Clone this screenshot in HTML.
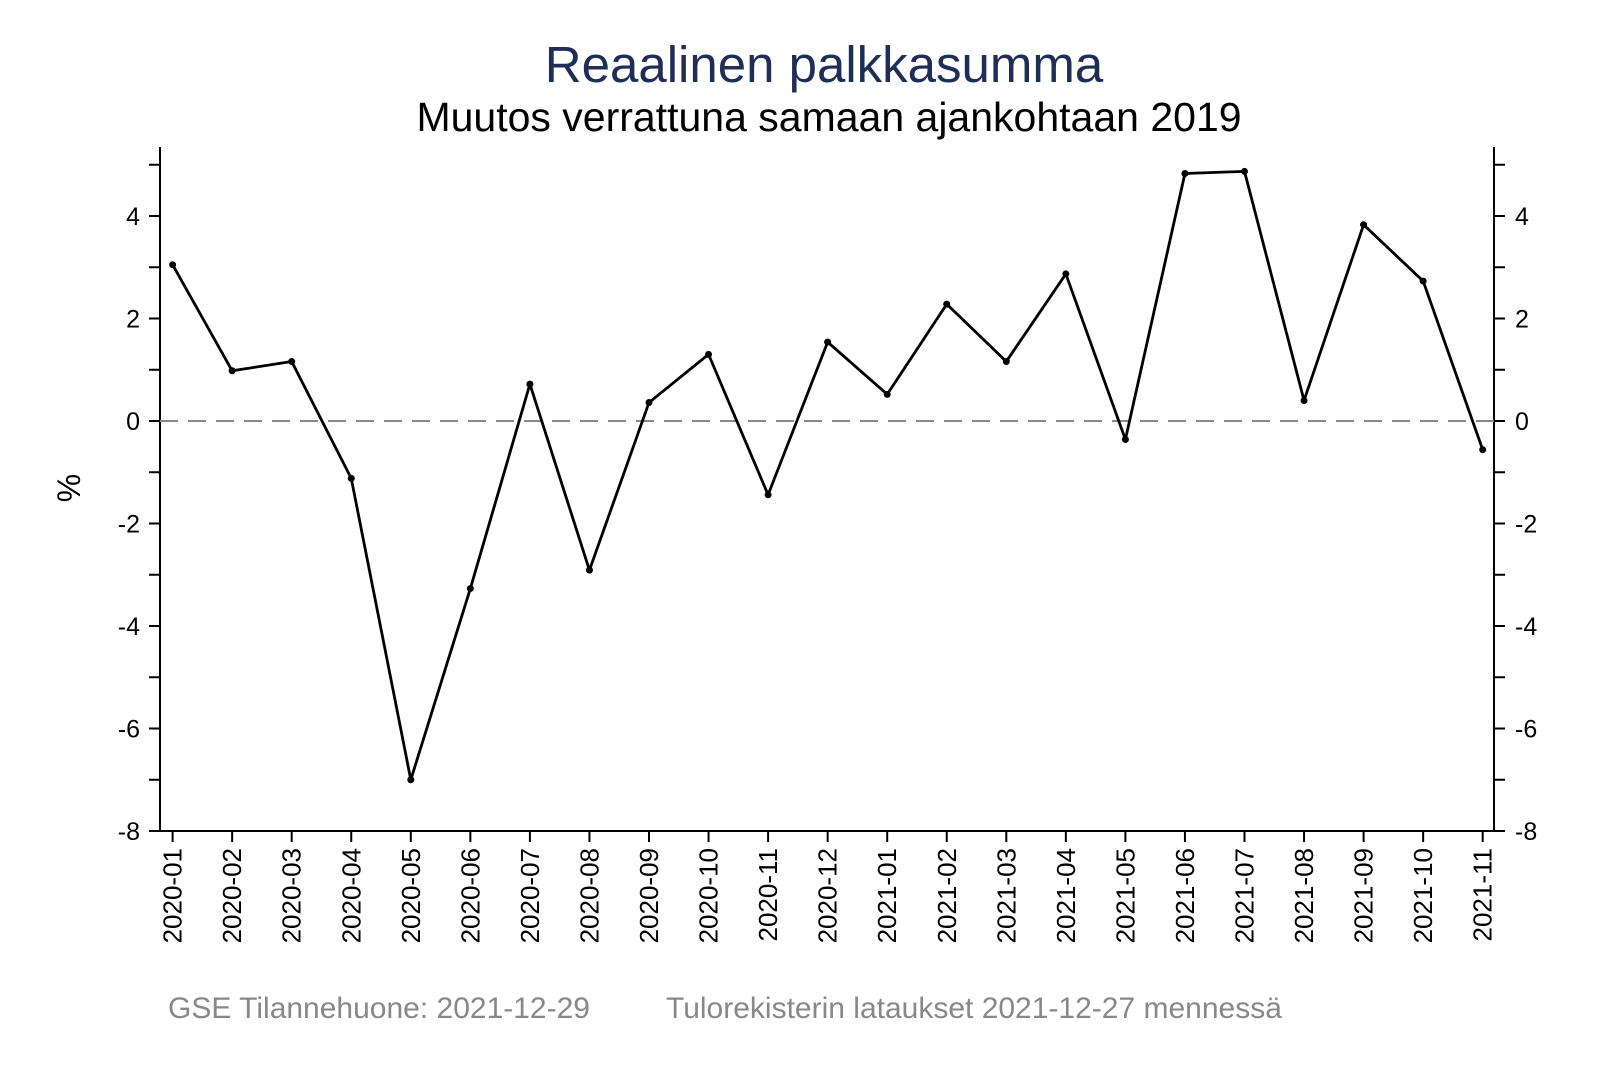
<!DOCTYPE html>
<html><head><meta charset="utf-8"><style>body{margin:0;background:#fff}</style></head><body>
<svg width="1600" height="1067" xmlns="http://www.w3.org/2000/svg" font-family="Liberation Sans, Arial, sans-serif">
<rect width="1600" height="1067" fill="#fff"/>
<text x="824" y="82" font-size="51" text-anchor="middle" fill="#1f2d57">Reaalinen palkkasumma</text>
<text x="829" y="131" font-size="41" text-anchor="middle" fill="#000">Muutos verrattuna samaan ajankohtaan 2019</text>
<g stroke="#000" stroke-width="2" fill="none">
<line x1="160" y1="147" x2="160" y2="832"/>
<line x1="1494" y1="147" x2="1494" y2="832"/>
<line x1="159" y1="831" x2="1495" y2="831"/>
</g>
<line x1="160" y1="421" x2="1494" y2="421" stroke="#888" stroke-width="2" stroke-dasharray="18,10"/>
<g id="ticks" stroke="#000" stroke-width="2"></g>
<g id="lbl" font-size="25" fill="#000"></g>
<g id="xl" font-size="26" fill="#000"></g>
<text transform="translate(80,488) rotate(-90)" font-size="32" text-anchor="middle">%</text>
<polyline id="ln" fill="none" stroke="#000" stroke-width="2.8" stroke-linejoin="round"/>
<g id="dots" fill="#000"></g>
<text x="168" y="1018" font-size="30" fill="#888">GSE Tilannehuone: 2021-12-29</text>
<text x="666" y="1018" font-size="30" fill="#888">Tulorekisterin lataukset 2021-12-27 mennessä</text>
</svg>
<script>
var ns="http://www.w3.org/2000/svg";
function el(p,t,a,txt){var e=document.createElementNS(ns,t);for(var k in a)e.setAttribute(k,a[k]);if(txt!=null)e.textContent=txt;document.getElementById(p).appendChild(e);}
function Y(v){return 421-51.25*v;}
for(var v=-8;v<=5;v++){var y=Y(v);
el("ticks","line",{x1:149,y1:y,x2:160,y2:y});el("ticks","line",{x1:1494,y1:y,x2:1505,y2:y});
if(v%2==0){el("lbl","text",{x:140,y:y+9,"text-anchor":"end"},v);el("lbl","text",{x:1515,y:y+9},v);}}
var d=[3.05,0.98,1.16,-1.12,-7.0,-3.27,0.72,-2.91,0.36,1.30,-1.44,1.54,0.52,2.28,1.16,2.87,-0.36,4.83,4.87,0.40,3.83,2.73,-0.56];
var pts=[];
for(var i=0;i<23;i++){var x=172.6+i*59.55;var y=Y(d[i]);pts.push(x+","+y);
el("dots","circle",{cx:x,cy:y,r:3.5});
el("ticks","line",{x1:x,y1:831,x2:x,y2:842});
var yr=i<12?2020:2021,m=(i%12)+1;
el("xl","text",{transform:"translate("+(x+9)+",848) rotate(-90)","text-anchor":"end"},yr+"-"+(m<10?"0":"")+m);}
document.getElementById("ln").setAttribute("points",pts.join(" "));
</script>
</body></html>
